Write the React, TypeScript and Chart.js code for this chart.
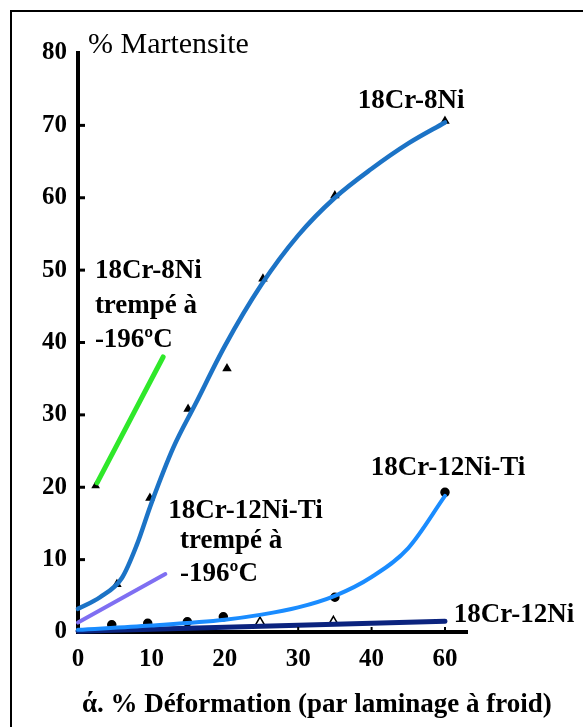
import React, { useEffect, useRef } from 'react';
import { Chart, registerables } from 'chart.js';

Chart.register(...registerables);

const SERIF = "'Liberation Serif', 'DejaVu Serif', serif";

// Axis positions: the last tick is printed "60" but sits one step after 40
const xTickValues = [0, 10, 20, 30, 40, 50];
const xTickLabels = ['0', '10', '20', '30', '40', '60'];
const yTickStep = 10;
const yMax = 80;
const xMax = 53;

// 18Cr-8Ni (fitted curve)
const cr8NiX = [0, 3, 6, 8, 10, 13, 16, 20, 25, 30, 35, 40, 45, 50];
const cr8NiY = [3.2, 4.8, 7.5, 12.0, 17.8, 25.5, 31.5, 39.5, 48.0, 54.8, 60.0, 64.0, 67.5, 70.4];
// 18Cr-8Ni measured points (triangles)
const cr8NiPtsX = [5.3, 9.8, 15.0, 20.3, 25.2, 35.0, 50];
const cr8NiPtsY = [6.6, 18.5, 30.8, 36.4, 48.8, 60.3, 70.6];

// 18Cr-8Ni trempé à -196ºC
const cr8NiQX = [2.6, 11.6];
const cr8NiQY = [20.6, 38.0];
const cr8NiQPtsX = [2.4];
const cr8NiQPtsY = [20.2];

// 18Cr-12Ni-Ti (fitted curve)
const cr12NiTiX = [0, 10, 20, 25, 30, 35, 40, 45, 50];
const cr12NiTiY = [0.3, 0.9, 1.7, 2.4, 3.4, 5.0, 7.6, 11.6, 18.8];
// 18Cr-12Ni-Ti measured points (dots)
const cr12NiTiPtsX = [4.6, 9.5, 14.9, 19.8, 35.0, 50];
const cr12NiTiPtsY = [1.0, 1.2, 1.4, 2.1, 4.8, 19.3];

// 18Cr-12Ni-Ti trempé à -196ºC
const cr12NiTiQX = [0, 11.9];
const cr12NiTiQY = [1.3, 8.0];

// 18Cr-12Ni
const cr12NiX = [0, 50];
const cr12NiY = [0.1, 1.5];
const cr12NiPtsX = [24.8, 34.8];
const cr12NiPtsY = [1.3, 1.4];

const yTitle = '% Martensite';
const xTitle = 'ά. % Déformation (par laminage à froid)';

const labelFont = `bold 27px ${SERIF}`;
const annotations = [
  { text: '18Cr-8Ni', x: 38.1, y: 72.4 },
  { text: '18Cr-8Ni', x: 2.3, y: 48.9 },
  { text: 'trempé à', x: 2.3, y: 44.1 },
  { text: '-196ºC', x: 2.3, y: 39.4 },
  { text: '18Cr-12Ni-Ti', x: 12.3, y: 15.75 },
  { text: 'trempé à', x: 13.9, y: 11.6 },
  { text: '-196ºC', x: 13.9, y: 7.1 },
  { text: '18Cr-12Ni-Ti', x: 39.9, y: 21.7 },
  { text: '18Cr-12Ni', x: 51.2, y: 1.4 },
];

const pts = (xs: number[], ys: number[]) => xs.map((x, i) => ({ x, y: ys[i] }));

const decorPlugin = {
  id: 'decor',
  beforeDraw(chart: any) {
    const { ctx, width, height } = chart;
    ctx.save();
    ctx.fillStyle = '#ffffff';
    ctx.fillRect(0, 0, width, height);
    ctx.strokeStyle = '#000';
    ctx.lineWidth = 2;
    ctx.beginPath();
    ctx.moveTo(11, height);
    ctx.lineTo(11, 11);
    ctx.lineTo(width, 11);
    ctx.stroke();
    ctx.restore();
  },
  afterDraw(chart: any) {
    const { ctx, chartArea } = chart;
    const xs = chart.scales.x;
    const ys = chart.scales.y;
    ctx.save();
    ctx.strokeStyle = '#000';
    ctx.lineWidth = 3;
    for (let v = yTickStep; v < yMax; v += yTickStep) {
      const py = ys.getPixelForValue(v);
      ctx.beginPath();
      ctx.moveTo(chartArea.left, py);
      ctx.lineTo(chartArea.left + 7, py);
      ctx.stroke();
    }
    ctx.lineWidth = 2;
    for (const v of xTickValues.slice(3)) {
      const px = xs.getPixelForValue(v);
      ctx.beginPath();
      ctx.moveTo(px, chartArea.bottom);
      ctx.lineTo(px, chartArea.bottom - 5);
      ctx.stroke();
    }
    ctx.fillStyle = '#000';
    ctx.textAlign = 'left';
    ctx.textBaseline = 'alphabetic';
    ctx.font = labelFont;
    for (const a of annotations) {
      ctx.fillText(a.text, xs.getPixelForValue(a.x), ys.getPixelForValue(a.y));
    }
    ctx.font = `30px ${SERIF}`;
    ctx.fillText(yTitle, chartArea.left + 10, chartArea.top);
    ctx.font = `bold 27px ${SERIF}`;
    ctx.fillText(xTitle, chartArea.left + 4, chartArea.bottom + 80);
    ctx.restore();
  },
};

const lineDs = (data: any[], color: string, width: number) => ({
  data,
  borderColor: color,
  backgroundColor: color,
  borderWidth: width,
  pointRadius: 0,
  cubicInterpolationMode: 'monotone' as const,
  fill: false,
  clip: false as any,
  borderCapStyle: 'round' as const,
});

const markerDs = (data: any[], style: string, radius: number, bg: string) => ({
  data,
  showLine: false,
  pointStyle: style,
  pointRadius: radius,
  pointBackgroundColor: bg,
  pointBorderColor: '#000',
  pointBorderWidth: 1.5,
  clip: false as any,
});

export default function App() {
  const canvasRef = useRef<HTMLCanvasElement | null>(null);

  useEffect(() => {
    if (!canvasRef.current) return;
    const tickFont = { family: SERIF, size: 25, weight: 'bold' as const };
    const chart = new Chart(canvasRef.current, {
      type: 'line',
      data: {
        datasets: [
          lineDs(pts(cr8NiX, cr8NiY), '#1c73c6', 4.5),
          lineDs(pts(cr12NiTiX, cr12NiTiY), '#1a8cff', 4),
          lineDs(pts(cr12NiX, cr12NiY), '#0b237e', 5),
          lineDs(pts(cr8NiQX, cr8NiQY), '#2fe82a', 5),
          lineDs(pts(cr12NiTiQX, cr12NiTiQY), '#7f6ff2', 4),
          markerDs(pts(cr8NiPtsX, cr8NiPtsY), 'triangle', 4, '#000'),
          markerDs(pts(cr8NiQPtsX, cr8NiQPtsY), 'triangle', 3.5, '#000'),
          markerDs(pts(cr12NiTiPtsX, cr12NiTiPtsY), 'circle', 4, '#000'),
          markerDs(pts(cr12NiPtsX, cr12NiPtsY), 'triangle', 5.5, '#fff'),
        ] as any,
      },
      options: {
        animation: false,
        responsive: true,
        maintainAspectRatio: false,
        layout: { padding: { left: 10, top: 53, right: 116, bottom: 0 } },
        plugins: { legend: { display: false }, tooltip: { enabled: false } },
        scales: {
          x: {
            type: 'linear',
            min: 0,
            max: xMax,
            grid: { display: false, drawTicks: false },
            border: { display: true, color: '#000', width: 4 },
            afterBuildTicks: (s: any) => {
              s.ticks = xTickValues.map((v) => ({ value: v }));
            },
            afterFit: (s: any) => {
              s.height = 95;
            },
            ticks: {
              autoSkip: false,
              maxRotation: 0,
              padding: 13,
              color: '#000',
              font: tickFont,
              callback: (v: any) => {
                const i = xTickValues.indexOf(Number(v));
                return i >= 0 ? xTickLabels[i] : '';
              },
            },
          },
          y: {
            type: 'linear',
            min: 0,
            max: yMax,
            grid: { display: false, drawTicks: false },
            border: { display: true, color: '#000', width: 4 },
            afterFit: (s: any) => {
              s.width = 68;
            },
            ticks: {
              stepSize: yTickStep,
              padding: 11,
              color: '#000',
              font: tickFont,
            },
          },
        },
      },
      plugins: [decorPlugin],
    });
    return () => chart.destroy();
  }, []);

  return (
    <div style={{ position: 'fixed', left: 0, top: 0, width: 583, height: 727, background: '#fff' }}>
      <canvas ref={canvasRef} />
    </div>
  );
}
